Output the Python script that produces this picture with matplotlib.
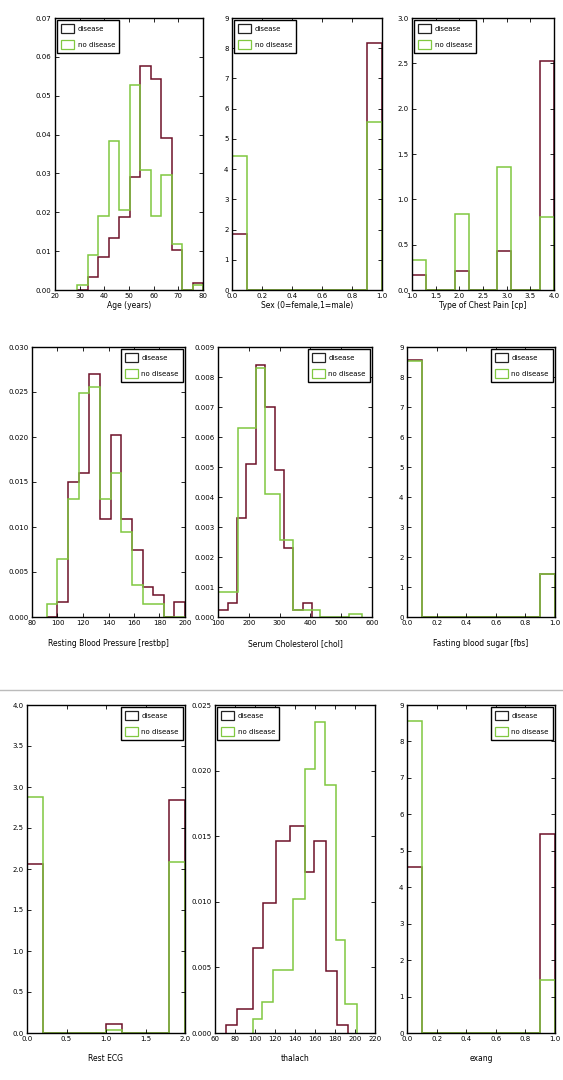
import matplotlib
matplotlib.use("Agg")
import matplotlib.pyplot as plt
from matplotlib.lines import Line2D
from matplotlib.patches import Patch

plt.rcParams['font.family'] = ['Liberation Sans Narrow', 'DejaVu Sans']

DIS = '#6d1128'
NODIS = '#80c840'

# ---- data (density histograms) ----
age_edges = [29, 33.25, 37.5, 41.75, 46, 50.25, 54.5, 58.75, 63, 67.25, 71.5, 75.75, 80]
age_dis = [0.0, 0.0033, 0.0085, 0.0135, 0.0187, 0.029, 0.0577, 0.0544, 0.039, 0.0102, 0.0, 0.0018]
age_nodis = [0.0014, 0.0089, 0.0191, 0.0384, 0.0206, 0.0528, 0.031, 0.0191, 0.0295, 0.0118, 0.0, 0.0012]

sex_edges = [0.0, 0.1, 0.2, 0.3, 0.4, 0.5, 0.6, 0.7, 0.8, 0.9, 1.0]
sex_dis = [1.84, 0, 0, 0, 0, 0, 0, 0, 0, 8.16]
sex_nodis = [4.45, 0, 0, 0, 0, 0, 0, 0, 0, 5.55]

cp_edges = [1.0, 1.3, 1.6, 1.9, 2.2, 2.5, 2.8, 3.1, 3.4, 3.7, 4.0]
cp_dis = [0.16, 0, 0, 0.21, 0, 0, 0.43, 0, 0, 2.53]
cp_nodis = [0.33, 0, 0, 0.84, 0, 0, 1.36, 0, 0, 0.81]

bp_edges = [91.7, 100, 108.3, 116.7, 125, 133.3, 141.7, 150, 158.3, 166.7, 175, 183.3, 191.7, 200]
bp_dis = [0.0, 0.0017, 0.015, 0.016, 0.027, 0.0109, 0.0202, 0.0109, 0.0075, 0.0033, 0.0025, 0.0, 0.0017]
bp_nodis = [0.0015, 0.0065, 0.0131, 0.0249, 0.0256, 0.0131, 0.016, 0.0094, 0.0036, 0.0015, 0.0015, 0.0, 0.0]

chol_dis_edges = [101, 131.5, 162, 192.5, 223, 253.5, 284, 314.5, 345, 375.5, 406]
chol_dis = [0.00024, 0.00047, 0.0033, 0.0051, 0.0084, 0.0070, 0.0049, 0.0023, 0.00024, 0.00047]
chol_nodis_edges = [101, 164, 222, 253, 300, 342, 432, 526, 568]
chol_nodis = [0.00085, 0.0063, 0.0083, 0.0041, 0.00256, 0.00025, 0.0, 0.00011]

fbs_edges = [0.0, 0.1, 0.2, 0.3, 0.4, 0.5, 0.6, 0.7, 0.8, 0.9, 1.0]
fbs_dis = [8.58, 0, 0, 0, 0, 0, 0, 0, 0, 1.42]
fbs_nodis = [8.55, 0, 0, 0, 0, 0, 0, 0, 0, 1.45]

ecg_edges = [0.0, 0.2, 0.4, 0.6, 0.8, 1.0, 1.2, 1.4, 1.6, 1.8, 2.0]
ecg_dis = [2.06, 0, 0, 0, 0, 0.11, 0, 0, 0, 2.84]
ecg_nodis = [2.88, 0, 0, 0, 0, 0.04, 0, 0, 0, 2.09]

thal_dis_edges = [71, 81.7, 97.7, 108.3, 121, 135, 150, 159, 171, 181.7, 193.3]
thal_dis = [0.0006, 0.0018, 0.0065, 0.0099, 0.0146, 0.0158, 0.0123, 0.0146, 0.0047, 0.0006]
thal_nodis_edges = [97.7, 106.7, 117.7, 137.7, 150, 160, 170, 181, 190, 201.7]
thal_nodis = [0.0011, 0.0024, 0.0048, 0.0102, 0.0201, 0.0237, 0.0189, 0.0071, 0.0022]

ex_edges = [0.0, 0.1, 0.2, 0.3, 0.4, 0.5, 0.6, 0.7, 0.8, 0.9, 1.0]
ex_dis = [4.55, 0, 0, 0, 0, 0, 0, 0, 0, 5.45]
ex_nodis = [8.55, 0, 0, 0, 0, 0, 0, 0, 0, 1.45]

W, H = 563, 1080
fig = plt.figure(figsize=(W / 100, H / 100), dpi=100)


def box(x0, x1, ytop, ybot):
    return [x0 / W, 1 - ybot / H, (x1 - x0) / W, (ybot - ytop) / H]


def panel(rect, ed, vd, en, vn, xlim, xticks, ylim, yticks, xlabel, loc, lpad):
    ax = fig.add_axes(rect)
    ax.stairs(vd, ed, color=DIS, lw=1.1, baseline=0)
    ax.stairs(vn, en, color=NODIS, lw=1.1, baseline=0)
    ax.set_xlim(xlim)
    ax.set_ylim(ylim)
    ax.set_xticks(xticks)
    ax.set_yticks(yticks)
    ax.tick_params(direction='in', top=True, right=True, length=3, width=0.6,
                   labelsize=5, pad=2.5)
    for s in ax.spines.values():
        s.set_linewidth(1.0)
    ax.set_xlabel(xlabel, fontsize=5.5, labelpad=lpad)
    handles = [Patch(facecolor='none', edgecolor='#222222', lw=0.9, label='disease'),
               Patch(facecolor='none', edgecolor=NODIS, lw=0.9, label='no disease')]
    leg = ax.legend(handles=handles, loc=loc, fontsize=5, fancybox=False, framealpha=1,
                    edgecolor='black', handlelength=1.9, handleheight=1.6,
                    labelspacing=1.0, borderpad=0.6, borderaxespad=0.3,
                    handletextpad=0.5)
    leg.get_frame().set_linewidth(1.0)
    return ax


# row 1
panel(box(55, 203, 18, 290), age_edges, age_dis, age_edges, age_nodis,
      (20, 80), range(20, 81, 10), (0, 0.07), [i / 100 for i in range(8)],
      'Age (years)', 'upper left', 1)
panel(box(232, 382, 18, 290), sex_edges, sex_dis, sex_edges, sex_nodis,
      (0, 1), [0, 0.2, 0.4, 0.6, 0.8, 1.0], (0, 9), range(10),
      'Sex (0=female,1=male)', 'upper left', 1)
panel(box(412, 554, 18, 290), cp_edges, cp_dis, cp_edges, cp_nodis,
      (1, 4), [1.0, 1.5, 2.0, 2.5, 3.0, 3.5, 4.0], (0, 3.0),
      [0, 0.5, 1.0, 1.5, 2.0, 2.5, 3.0], 'Type of Chest Pain [cp]', 'upper left', 1)

# row 2
panel(box(32, 185, 347, 617), bp_edges, bp_dis, bp_edges, bp_nodis,
      (80, 200), range(80, 201, 20), (0, 0.030),
      [0, 0.005, 0.010, 0.015, 0.020, 0.025, 0.030],
      'Resting Blood Pressure [restbp]', 'upper right', 9)
panel(box(218, 372, 347, 617), chol_dis_edges, chol_dis, chol_nodis_edges, chol_nodis,
      (100, 600), range(100, 601, 100), (0, 0.009),
      [i / 1000 for i in range(10)], 'Serum Cholesterol [chol]', 'upper right', 9)
panel(box(407, 555, 347, 617), fbs_edges, fbs_dis, fbs_edges, fbs_nodis,
      (0, 1), [0, 0.2, 0.4, 0.6, 0.8, 1.0], (0, 9), range(10),
      'Fasting blood sugar [fbs]', 'upper right', 9)

# row 3
panel(box(27, 185, 705, 1033), ecg_edges, ecg_dis, ecg_edges, ecg_nodis,
      (0, 2), [0, 0.5, 1.0, 1.5, 2.0], (0, 4.0),
      [0, 0.5, 1.0, 1.5, 2.0, 2.5, 3.0, 3.5, 4.0], 'Rest ECG', 'upper right', 8)
panel(box(215, 375, 705, 1033), thal_dis_edges, thal_dis, thal_nodis_edges, thal_nodis,
      (60, 220), range(60, 221, 20), (0, 0.025),
      [0, 0.005, 0.010, 0.015, 0.020, 0.025], 'thalach', 'upper left', 8)
panel(box(407, 555, 705, 1033), ex_edges, ex_dis, ex_edges, ex_nodis,
      (0, 1), [0, 0.2, 0.4, 0.6, 0.8, 1.0], (0, 9), range(10),
      'exang', 'upper right', 8)

# separator line between the stacked screenshots
fig.add_artist(Line2D([0, 1], [1 - 690 / H, 1 - 690 / H], color='#bbbbbb', lw=1.0))

fig.savefig('out.png', dpi=100)
